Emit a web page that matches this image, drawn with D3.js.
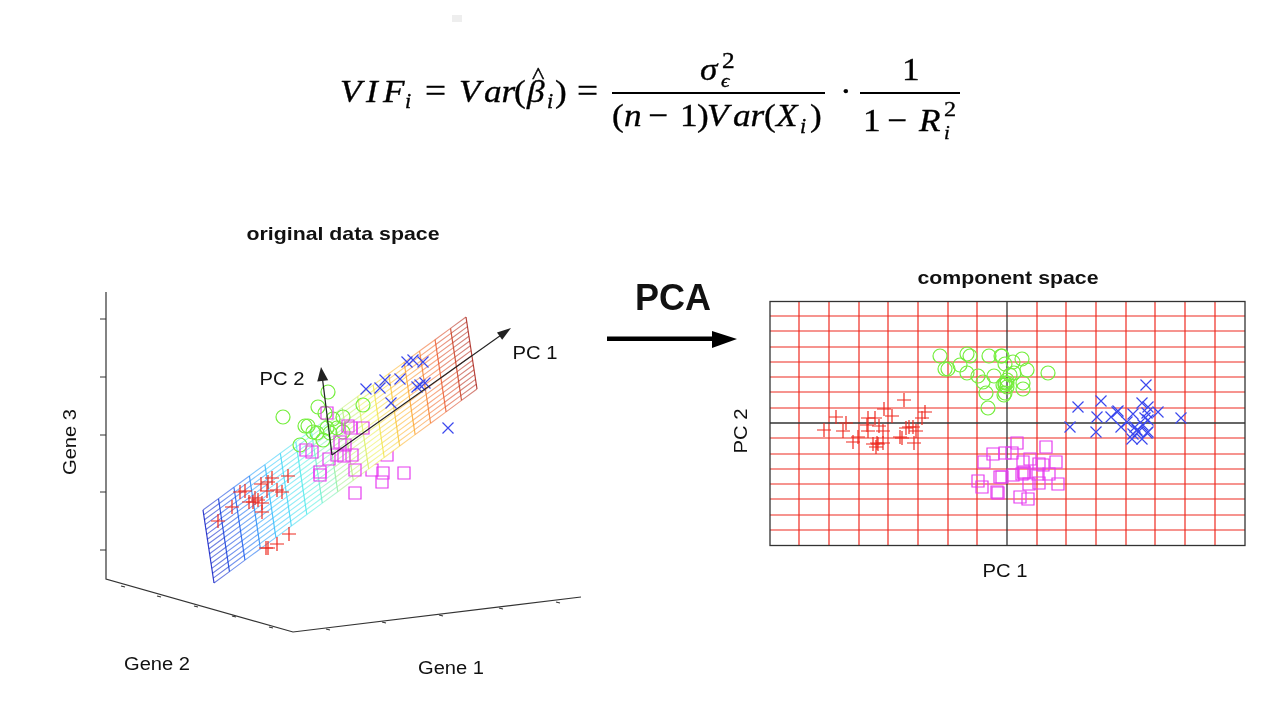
<!DOCTYPE html>
<html><head><meta charset="utf-8">
<script src="https://cdnjs.cloudflare.com/ajax/libs/d3/7.8.5/d3.min.js"></script>
<style>html,body{margin:0;padding:0;background:#fff}svg{display:block;filter:blur(.35px)}
text{font-family:"Liberation Sans",sans-serif;fill:#111}
.f text{font-family:"Liberation Serif",serif;fill:#000;stroke:#000;stroke-width:.35}</style></head><body>
<div id="c"></div>
<script>
// ---- component space: scores on PC 1 / PC 2
const pcRed=[[-103,23],[-123,14],[-115,7],[-171,6],[-82,11],[-85,5],[-132,5],[-139,5],[-161,0],[-183,-7],[-164,-8],[-128,-3],[-139,-8],[-98,-4],[-94,-4],[-101,-5],[-91,-8],[-124,-8],[-107,-14],[-105,-15],[-154,-19],[-149,-14],[-93,-20],[-130,-20],[-134,-21],[-124,-20],[-131,-24],[-129,-21],[-140,-2]];
const pcGreen=[[-67,67],[-40,69],[-37,67],[-18,67],[-6,67],[-47,58],[-62,54],[-59,54],[-40,50],[-29,47],[-2,59],[-13,47],[-24,41],[-21,30],[-19,15],[-3,28],[-2,40],[-4,38],[0,36],[41,50],[15,64],[20,53],[6,61],[-5,67],[7,50],[16,40],[16,34],[0,43],[-2,38],[0,40],[-2,30],[3,48]];
const pcMagenta=[[-14,-31],[-2,-30],[-23,-39],[-29,-58],[-25,-64],[-7,-54],[-10,-69],[-9,-70],[10,-20],[39,-24],[5,-30],[16,-39],[23,-36],[32,-41],[36,-42],[49,-39],[17,-50],[15,-51],[6,-52],[-5,-54],[31,-51],[42,-51],[22,-61],[32,-60],[51,-61],[13,-74],[21,-76],[17,-49]];
const pcBlue=[[139,38],[94,22],[71,16],[90,6],[104,6],[111,12],[110,11],[135,20],[126,9],[151,11],[141,16],[140,10],[174,5],[63,-4],[89,-9],[114,-4],[120,1],[141,3],[128,-4],[136,-2],[131,-9],[126,-11],[141,-9],[135,-16],[125,-16],[140,-10],[130,-7],[138,5]];
const gridPC1=[-208,-178,-148,-119,-89,-59,-30,30,59,89,119,148,178,208];
const gridPC2=[-107,-92,-76,-61,-46,-31,-15,15,31,46,61,76,92,107];
// ---- original data space: projected coordinates
const geneRed=[[182,156],[166,154],[155,148],[162,150],[176,140],[171,142],[161,141],[139,141],[134,140],[143,130],[152,132],[147,130],[156,129],[156,120],[126,125],[112,111],[183,98],[171,88],[162,84],[160,84],[149,134]];
const geneGreen=[[222,240],[212,225],[177,215],[257,227],[199,206],[202,206],[227,213],[231,204],[221,204],[211,199],[194,187],[217,192],[224,199],[237,215],[207,200],[237,200],[219,219]];
const geneMagenta=[[221,219],[242,206],[245,204],[257,204],[200,182],[206,180],[234,190],[239,187],[223,173],[231,177],[238,176],[246,177],[214,160],[214,157],[277,159],[298,159],[276,150],[249,139],[249,162]];
const geneMagentaBehind=[[266,162],[281,177]];
const geneBlue=[[260,243],[274,244],[279,252],[294,253],[301,270],[307,272],[317,270],[285,229],[311,245],[314,247],[319,249]];
const geneBlueBehind=[[342,204]];
const meshCorners=[[97,122],[360,315],[371,243],[108,49]];
const meshColumns=17, meshRows=15;
const meshColors=["#0a18c4","#1a60f0","#39c8ff","#55f0e8","#a8f090","#f0f050","#ffb030","#f06030","#a82018"];
const axisCorners=[[0,340],[0,53],[187,0],[475,35]];
const gene3Ticks=[[0,313],[0,255],[0,197],[0,140],[0,82]];
const gene2Ticks=[[16,46],[52,36],[89,26],[127,16],[164,5]];
const gene1Ticks=[[221,3],[277,10],[334,17],[394,24],[451,30]];
const pcOrigin=[226,177], pc1Tip=[405,304], pc2Tip=[215,265];
const labels={title1:"original data space",title2:"component space",pca:"PCA"};

const W=1284,H=726;
const svg=d3.select("#c").append("svg").attr("width",W).attr("height",H).attr("viewBox",[0,0,W,H]);
svg.append("rect").attr("x",452).attr("y",15).attr("width",10).attr("height",7).attr("fill","#eee");

// ---- formula
const f=svg.append("g").attr("class","f");
const runs=[
 ["V",340,102,32,1],["I",366,102,32,1],["F",383,102,32,1],["i",405,108,20,1],["=",425,102,34,0],
 ["V",459,102,32,1],["ar",484,102,32,1],["(",514,102,32,0],["β",527,102,32,1],["^",532,83,24,0],["i",547,108,20,1],[")",555,102,32,0],
 ["=",577,102,34,0],
 ["σ",700,80,32,1],["ϵ",721,87,19,1],["2",722,68,23,0],
 ["(",612,126,32,0],["n",624,126,32,1],["−",648,126,32,0],["1",680,126,32,0],[")",697,126,32,0],["V",707,126,32,1],["ar",733,126,32,1],["(",764,126,32,0],["X",776,126,32,1],["i",800,133,20,1],[")",810,126,32,0],
 ["·",840,102,32,0],
 ["1",902,80,32,0],
 ["1",863,131,32,0],["−",887,131,32,0],["R",919,131,32,1],["2",944,116,22,0],["i",944,139,19,1]];
f.selectAll("text").data(runs).join("text").attr("transform",d=>`translate(${d[1]},${d[2]}) scale(1.1,1)`).attr("font-size",d=>d[3]).attr("font-style",d=>d[4]?"italic":"normal").text(d=>d[0]);
[[612,825],[860,960]].forEach(b=>f.append("line").attr("x1",b[0]).attr("x2",b[1]).attr("y1",93).attr("y2",93).attr("stroke","#000").attr("stroke-width",2));

// ---- marker helpers
const C={red:"#ee2a20",green:"#74ee3c",magenta:"#e63cf0",blue:"#3b48ee"};
function plus(x,y,h){const p=d3.path();p.moveTo(x-h,y);p.lineTo(x+h,y);p.moveTo(x,y-h);p.lineTo(x,y+h);return p.toString();}
function cross(x,y,h){const p=d3.path();p.moveTo(x-h,y-h);p.lineTo(x+h,y+h);p.moveTo(x-h,y+h);p.lineTo(x+h,y-h);return p.toString();}
function square(x,y,h){const p=d3.path();p.rect(x-h,y-h,2*h,2*h);return p.toString();}
function circle(x,y,h){const p=d3.path();p.arc(x,y,h,0,2*Math.PI);return p.toString();}
function marks(g,data,sx,sy,fn,h,col){g.append("g").selectAll("path").data(data).join("path")
  .attr("d",d=>fn(sx(d[0]),sy(d[1]),h)).attr("fill","none").attr("stroke",col).attr("stroke-width",1.2);}

// ---- left panel
const lx=d3.scaleLinear().domain([0,475]).range([106,581]);
const ly=d3.scaleLinear().domain([0,340]).range([632,292]);
const L=svg.append("g");
L.append("path").attr("d",d3.line().x(d=>lx(d[0])).y(d=>ly(d[1]))(axisCorners)).attr("fill","none").attr("stroke","#333").attr("stroke-width",1.2);
L.selectAll(".t3").data(gene3Ticks).join("line").attr("x1",d=>lx(d[0])-6).attr("x2",d=>lx(d[0])).attr("y1",d=>ly(d[1])).attr("y2",d=>ly(d[1])).attr("stroke","#333");
L.selectAll(".t2").data(gene2Ticks.concat(gene1Ticks)).join("line").attr("x1",d=>lx(d[0])-1).attr("x2",d=>lx(d[0])+3).attr("y1",d=>ly(d[1])).attr("y2",d=>ly(d[1])+1).attr("stroke","#333").attr("stroke-width",1.2);

marks(L,geneMagentaBehind,lx,ly,square,6,C.magenta);
marks(L,geneBlueBehind,lx,ly,cross,5.5,C.blue);

// mesh: bilinear between the four corners
const [A,B,Cc,D]=meshCorners;
const uScale=d3.scaleLinear().domain([0,meshColumns]).range([0,1]);
const vScale=d3.scaleLinear().domain([0,meshRows]).range([0,1]);
function meshPt(c,r){const u=uScale(c),v=vScale(r);
  const tx=d3.interpolateNumber(A[0],B[0])(u),ty=d3.interpolateNumber(A[1],B[1])(u);
  const bx=d3.interpolateNumber(D[0],Cc[0])(u),by=d3.interpolateNumber(D[1],Cc[1])(u);
  return [lx(tx+(bx-tx)*v),ly(ty+(by-ty)*v)];}
const colColor=d3.scaleLinear().domain(d3.range(meshColors.length).map(i=>i*meshColumns/(meshColors.length-1))).range(meshColors);
const M=L.append("g");
M.append("polygon").attr("points",[meshPt(0,0),meshPt(meshColumns,0),meshPt(meshColumns,meshRows),meshPt(0,meshRows)].join(" ")).attr("fill","#fff");
for(let r=0;r<=meshRows;r++)for(let c=0;c<meshColumns;c++){const a=meshPt(c,r),b=meshPt(c+1,r);
  M.append("line").attr("x1",a[0]).attr("y1",a[1]).attr("x2",b[0]).attr("y2",b[1]).attr("stroke",colColor(c+.5)).attr("stroke-width",1.1).attr("opacity",.6);}
for(let c=0;c<=meshColumns;c++){const a=meshPt(c,0),b=meshPt(c,meshRows);
  M.append("line").attr("x1",a[0]).attr("y1",a[1]).attr("x2",b[0]).attr("y2",b[1]).attr("stroke",colColor(c)).attr("stroke-width",1.2).attr("opacity",.85);}

marks(L,geneGreen,lx,ly,circle,7,C.green);
marks(L,geneMagenta,lx,ly,square,6,C.magenta);
marks(L,geneRed,lx,ly,plus,7,C.red);
marks(L,geneBlue,lx,ly,cross,5.5,C.blue);

// PC arrows
function arrow(g,from,to,len,hw,w,col){const x0=from[0],y0=from[1],x1=to[0],y1=to[1];
  const d=Math.hypot(x1-x0,y1-y0),ux=(x1-x0)/d,uy=(y1-y0)/d;
  g.append("line").attr("x1",x0).attr("y1",y0).attr("x2",x1-ux*len*.8).attr("y2",y1-uy*len*.8).attr("stroke",col).attr("stroke-width",w);
  const bx=x1-ux*len,by=y1-uy*len;
  g.append("polygon").attr("points",[[x1,y1],[bx-uy*hw,by+ux*hw],[bx+uy*hw,by-ux*hw]].join(" ")).attr("fill",col);}
const P=p=>[lx(p[0]),ly(p[1])];
arrow(L,P(pcOrigin),P(pc1Tip),14,4.5,1.1,"#222");
arrow(L,P(pcOrigin),P(pc2Tip),14,5.5,1.2,"#222");

const T=(x,y,s,size,weight,rot,len)=>{const t=svg.append("text").attr("font-size",size).attr("font-weight",weight||"normal").text(s);
  t.attr("x",x).attr("y",y).attr("text-anchor","middle"); if(rot)t.attr("transform",`rotate(${rot} ${x} ${y})`);
  if(len)t.attr("textLength",len).attr("lengthAdjust","spacingAndGlyphs");return t;};
T(343,240,labels.title1,19,"bold",null,193);
T(282,385,"PC 2",18,null,null,45);
T(535,359,"PC 1",18,null,null,45);
T(76,442,"Gene 3",18,null,-90,66);
T(157,670,"Gene 2",18,null,null,66);
T(451,674,"Gene 1",18,null,null,66);

// ---- central arrow
T(673,310,labels.pca,36,"bold");
svg.append("rect").attr("x",607).attr("y",336.5).attr("width",110).attr("height",4.5).attr("fill","#000");
svg.append("polygon").attr("points","737,339 712,331 712,348").attr("fill","#000");

// ---- right panel
const rx=d3.scaleLinear().domain([-237,238]).range([770,1245]);
const ry=d3.scaleLinear().domain([-122,122]).range([545,301]);
const R=svg.append("g");
R.selectAll(".gx").data(gridPC1).join("line").attr("x1",d=>rx(d)).attr("x2",d=>rx(d)).attr("y1",ry.range()[1]).attr("y2",ry.range()[0]).attr("stroke","#ee2a20").attr("stroke-width",1.2);
R.selectAll(".gy").data(gridPC2).join("line").attr("y1",d=>ry(d)).attr("y2",d=>ry(d)).attr("x1",rx.range()[0]).attr("x2",rx.range()[1]).attr("stroke","#ee2a20").attr("stroke-width",1.2);
R.append("line").attr("x1",rx(0)).attr("x2",rx(0)).attr("y1",301).attr("y2",545).attr("stroke","#333").attr("stroke-width",1.3);
R.append("line").attr("y1",ry(0)).attr("y2",ry(0)).attr("x1",770).attr("x2",1245).attr("stroke","#333").attr("stroke-width",1.3);
R.append("rect").attr("x",770).attr("y",301.5).attr("width",475).attr("height",244).attr("fill","none").attr("stroke","#333").attr("stroke-width",1.3);
marks(R,pcGreen,rx,ry,circle,7,C.green);
marks(R,pcMagenta,rx,ry,square,6,C.magenta);
marks(R,pcRed,rx,ry,plus,7,C.red);
marks(R,pcBlue,rx,ry,cross,5.5,C.blue);
T(1008,284,labels.title2,19,"bold",null,181);
T(747,431,"PC 2",18,null,-90,45);
T(1005,577,"PC 1",18,null,null,45);
</script></body></html>
